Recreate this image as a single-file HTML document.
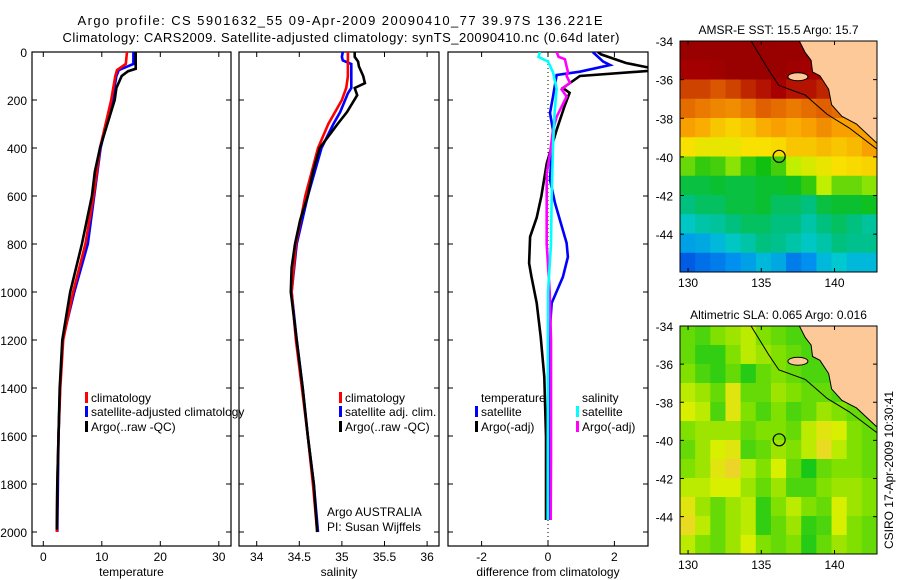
<!DOCTYPE html>
<html><head><meta charset="utf-8"><style>
body{margin:0;background:#fff;width:900px;height:580px;overflow:hidden}
svg{display:block;font-family:"Liberation Sans",sans-serif;font-size:12px}
</style></head><body>
<svg id="fig" width="900" height="580">
<text x="340" y="25" text-anchor="middle" font-size="13" textLength="525">Argo profile: CS 5901632_55 09-Apr-2009 20090410_77 39.97S 136.221E</text>
<text x="341" y="42" text-anchor="middle" font-size="13" textLength="557">Climatology: CARS2009. Satellite-adjusted climatology: synTS_20090410.nc (0.64d later)</text>
<g id="g"></g>
</svg>
<script>
// ---- profile data ----
const tClimDepth=[0,50,75,100,200,400,600,800,1000,1200,1400,1600,1800,2000];
const tClim=[14.3,14.1,12.6,12.3,11.6,9.7,8.6,7.2,5.1,3.4,2.9,2.6,2.4,2.3];
const tSat=[15.4,15.4,12.9,12.5,11.8,9.8,8.7,7.6,5.3,3.3,2.85,2.6,2.5,2.4];
const tArgoDepth=[0,70,80,100,150,200,400,500,600,800,1000,1200,1400,1600,1800,1990];
const tArgo=[15.8,15.8,14.5,13.4,12.5,12.2,9.7,8.8,8.3,6.6,4.6,3.25,2.8,2.6,2.4,2.3];
const sArgoDepth=[0,20,40,60,100,130,150,180,250,300,400,500,600,700,800,900,1000,1200,1400,1600,1800,2000];
const sArgo=[35.15,35.15,35.19,35.2,35.25,35.27,35.15,35.18,35.06,34.95,34.74,34.66,34.6,34.51,34.45,34.41,34.4,34.47,34.54,34.6,34.67,34.71];
const sClimDepth=[0,100,150,200,300,400,600,800,1000,1200,1400,1600,1800,2000];
const sClim=[35.07,35.07,35.05,35.0,34.84,34.72,34.57,34.46,34.41,34.46,34.53,34.6,34.66,34.71];
const sSatDepth=[0,20,35,50,150,172,250,300,400,600,800,1000,1200,1400,1600,1800,2000];
const sSat=[35.01,35.0,35.01,35.11,35.11,35.07,34.98,34.9,34.76,34.6,34.47,34.41,34.47,34.54,34.6,34.67,34.72];
const dTArgoDepth=[0,10,46,75,100,150,170,225,325,465,600,690,770,880,935,1046,1187,1354,1604,1950];
const dTArgo=[1.5,1.6,2.35,3.4,0.96,0.45,0.65,0.5,0.26,-0.04,-0.2,-0.34,-0.54,-0.57,-0.5,-0.34,-0.22,-0.11,-0.06,-0.06];
const dTSatDepth=[0,40,54,82,96,186,254,325,533,629,796,854,937,1046,1187,1950];
const dTSat=[1.35,1.66,1.87,0.96,0.26,0.15,0.06,0.15,0.06,0.21,0.56,0.6,0.45,0.11,0.04,0.05];
const dSSatDepth=[0,20,40,84,153,254,393,600,800,1000,1950];
const dSSat=[-0.24,-0.29,0,0.15,0.26,0.2,0.15,0.11,0.09,0,-0.01];
const dSArgoDepth=[0,20,30,60,82,100,128,156,186,270,325,424,507,800,1000,1200,1700,1950];
const dSArgo=[0.26,0.32,0.51,0.56,0.6,0.56,0.66,0.41,0.56,0.26,0.15,0.06,-0.04,-0.04,0.05,0.09,0.09,0.08];
const depthTicks=[0,200,400,600,800,1000,1200,1400,1600,1800,2000];
const tTicks=[0,10,20,30];
const sTicks=[34,34.5,35,35.5,36];
const dTicks=[-2,0,2];
// ---- map data (rows: lat -34.5 .. -45.5, cols: lon 130 .. 142) ----
const sstGrid=[
[0.97,0.97,0.97,0.97,0.97,0.97,0.97,0.97,0.97,0.95,0.95,0.95,0.95],
[0.93,0.93,0.95,0.97,0.97,0.97,0.97,0.95,0.93,0.92,0.92,0.92,0.92],
[0.85,0.85,0.83,0.85,0.88,0.9,0.92,0.9,0.9,0.88,0.86,0.85,0.85],
[0.8,0.78,0.76,0.75,0.78,0.82,0.8,0.78,0.8,0.82,0.8,0.78,0.75],
[0.72,0.7,0.66,0.64,0.66,0.7,0.72,0.7,0.72,0.75,0.72,0.72,0.72],
[0.62,0.6,0.6,0.6,0.62,0.62,0.63,0.66,0.66,0.68,0.66,0.68,0.72],
[0.5,0.47,0.48,0.52,0.47,0.45,0.48,0.55,0.58,0.6,0.62,0.63,0.64],
[0.42,0.42,0.43,0.42,0.42,0.43,0.43,0.44,0.47,0.55,0.5,0.5,0.52],
[0.38,0.4,0.4,0.42,0.42,0.43,0.4,0.4,0.38,0.42,0.43,0.43,0.44],
[0.33,0.35,0.36,0.38,0.4,0.4,0.38,0.38,0.35,0.38,0.4,0.38,0.36],
[0.27,0.28,0.3,0.33,0.35,0.38,0.37,0.35,0.33,0.35,0.38,0.37,0.37],
[0.17,0.2,0.22,0.25,0.27,0.3,0.28,0.22,0.25,0.3,0.32,0.3,0.3]];
const slaGrid=[
[0.3,0.2,0.4,0.5,0.6,0.4,0.3,0.2,0.2,0.2,0.2,0.2,0.2],
[0.3,0.1,0.1,0.4,0.6,0.5,0.4,0.3,0.2,0.2,0.2,0.2,0.2],
[0.4,0.2,0.1,0.3,0.05,0.3,0.4,0.3,0.2,0.2,0.2,0.2,0.2],
[0.6,0.5,0.3,0.8,0.3,0.3,0.5,0.4,0.3,0.3,0.2,0.2,0.2],
[0.7,0.6,0.2,0.8,0.4,0.2,0.4,0.2,0.3,0.5,0.4,0.3,0.3],
[0.4,0.5,0.5,0.5,0.3,0.4,0.4,0.3,0.6,0.8,0.7,0.4,0.3],
[0.3,0.5,0.7,0.8,0.2,0.3,0.5,0.4,0.6,0.9,0.6,0.4,0.3],
[0.4,0.5,0.8,0.95,0.6,0.4,0.7,0.3,0.0,0.3,0.4,0.4,0.3],
[0.6,0.6,0.7,0.7,0.5,0.3,0.5,0.2,0.2,0.4,0.5,0.5,0.4],
[0.8,0.5,0.3,0.5,0.6,0.1,0.4,0.6,0.4,0.3,0.7,0.5,0.4],
[0.9,0.6,0.3,0.5,0.6,0.1,0.3,0.5,0.1,0.2,0.7,0.4,0.3],
[0.6,0.4,0.3,0.5,0.7,0.4,0.3,0.4,0.05,0.3,0.5,0.4,0.3]];
const landLon=[137.6,142.9,142.9,141.5,140.5,139.8,139.6,139.0,138.5,138.4,138.0,137.6];
const landLat=[-34,-34,-39.3,-38.3,-37.9,-37.3,-36.5,-35.8,-35.6,-35.0,-34.6,-34];
const shelfLon=[134.3,135.5,136.2,138,139.5,141,142.9];
const shelfLat=[-34,-35.5,-36.3,-36.8,-37.8,-38.5,-39.6];
const lonTicks=[130,135,140];
const latTicks=[-34,-36,-38,-40,-42,-44];
const argoLon=136.221, argoLat=-39.97;

const NS='http://www.w3.org/2000/svg';
const G=document.getElementById('g');
function el(t,a,p){const e=document.createElementNS(NS,t);for(const k in a)e.setAttribute(k,a[k]);(p||G).appendChild(e);return e;}
const yD=d=>52+d*0.24;
const panels=[
 {x0:32,x1:231,sx:v=>43.3+v*5.85,ticks:tTicks,label:'temperature',name:'temperature'},
 {x0:239,x1:439,sx:v=>256.7+(v-34)*85.2,ticks:sTicks,label:'salinity',name:'salinity'},
 {x0:448,x1:648,sx:v=>548+v*33.2,ticks:dTicks,label:'difference from climatology',name:'difference'}];
const defs=el('defs',{});
panels.forEach((p,i)=>{
  const cp=el('clipPath',{id:'cp'+i},defs);el('rect',{x:p.x0,y:52,width:p.x1-p.x0,height:494},cp);
  const frame=el('rect',{x:p.x0,y:52,width:p.x1-p.x0,height:494,fill:'none',stroke:'#000','stroke-width':1.2});
  
  depthTicks.forEach(d=>{const y=yD(d);
    el('line',{x1:p.x0,x2:p.x0+5,y1:y,y2:y,stroke:'#000'});el('line',{x1:p.x1-5,x2:p.x1,y1:y,y2:y,stroke:'#000'});
    if(i==0){const t=el('text',{x:27,y:y+5,'text-anchor':'end'});t.textContent=d;
      }
  });
  p.ticks.forEach(v=>{const x=p.sx(v);
    el('line',{x1:x,x2:x,y1:52,y2:57,stroke:'#000'});el('line',{x1:x,x2:x,y1:541,y2:546,stroke:'#000'});
    const t=el('text',{x:x,y:561,'text-anchor':'middle'});t.textContent=v;
    });
  const xl=el('text',{x:(p.x0+p.x1)/2,y:576,'text-anchor':'middle'});xl.textContent=p.label;
  
});
el('line',{x1:548,x2:548,y1:52,y2:546,stroke:'#000','stroke-dasharray':'1,3'});
function series(pi,depths,vals,color,name){
  const p=panels[pi];
  const pts=vals.map((v,k)=>p.sx(v).toFixed(1)+','+yD(depths[k]).toFixed(1)).join(' ');
  const l=el('polyline',{points:pts,fill:'none',stroke:color,'stroke-width':2.6,'clip-path':'url(#cp'+pi+')'});
  
  
}
series(0,tClimDepth,tSat,'#0000ff','temp-satellite-line');
series(0,tClimDepth,tClim,'#ff0000','temp-climatology-line');
series(0,tArgoDepth,tArgo,'#000','temp-argo-line');
series(1,sSatDepth,sSat,'#0000ff','sal-satellite-line');
series(1,sClimDepth,sClim,'#ff0000','sal-climatology-line');
series(1,sArgoDepth,sArgo,'#000','sal-argo-line');
series(2,dTArgoDepth,dTArgo,'#000','diff-temp-argo-line');
series(2,dTSatDepth,dTSat,'#0000ff','diff-temp-satellite-line');
series(2,dSArgoDepth,dSArgo,'#ff00ff','diff-sal-argo-line');
series(2,dSSatDepth,dSSat,'#00ffff','diff-sal-satellite-line');
function legend(x,y,color,label,name){
  if(color){const b=el('rect',{x:x-6,y:y-10,width:3,height:11,fill:color});
    }
  const t=el('text',{x:x,y:y});t.textContent=label;
  
}
legend(91,402,'#ff0000','climatology','legend-climatology');
legend(91,416,'#0000ff','satellite-adjusted climatology','legend-satellite-adjusted');
legend(91,431,'#000','Argo(..raw -QC)','legend-argo');
legend(345,402,'#ff0000','climatology','legend-sal-climatology');
legend(345,416,'#0000ff','satellite adj. clim.','legend-sal-satellite');
legend(345,431,'#000','Argo(..raw -QC)','legend-sal-argo');
legend(481,402,null,'temperature','legend-temperature-heading');
legend(481,416,'#0000ff','satellite','legend-diff-temp-satellite');
legend(481,431,'#000','Argo(-adj)','legend-diff-temp-argo');
legend(582,402,null,'salinity','legend-salinity-heading');
legend(582,416,'#00ffff','satellite','legend-diff-sal-satellite');
legend(582,431,'#ff00ff','Argo(-adj)','legend-diff-sal-argo');
const a1=el('text',{x:327,y:516});a1.textContent='Argo AUSTRALIA';

const a2=el('text',{x:327,y:531});a2.textContent='PI: Susan Wijffels';


// ---- maps ----
function lerpStops(stops,v){v=Math.max(0,Math.min(1,v));
  for(let i=1;i<stops.length;i++){if(v<=stops[i][0]){const a=stops[i-1],b=stops[i],t=(v-a[0])/(b[0]-a[0]||1);
    const c=[0,1,2].map(k=>Math.round(a[1][k]+(b[1][k]-a[1][k])*t));return 'rgb('+c.join(',')+')';}}
  const c=stops[stops.length-1][1];return 'rgb('+c.join(',')+')';}
const sstStops=[[0,[0,32,160]],[0.15,[0,80,224]],[0.25,[0,144,240]],[0.32,[0,200,208]],[0.38,[0,192,128]],[0.45,[16,192,16]],[0.55,[192,240,0]],[0.62,[248,224,0]],[0.72,[248,160,0]],[0.82,[224,96,0]],[0.92,[168,0,0]],[1,[144,0,0]]];
const slaStops=[[0,[24,200,24]],[0.4,[128,224,0]],[0.7,[216,240,0]],[1,[240,208,48]]];
function drawMap(top,bottom,grid,stops,title,name,idx){
  const x0=680,x1=877,lonMin=129.45,lonMax=142.9,latTop=-34,latBot=-45.96;
  const sx=l=>x0+(l-lonMin)/(lonMax-lonMin)*(x1-x0);
  const sy=l=>top+(latTop-l)/(latTop-latBot)*(bottom-top);
  const cp=el('clipPath',{id:'mc'+idx},defs);el('rect',{x:x0,y:top,width:x1-x0,height:bottom-top},cp);
  const g=el('g',{'clip-path':'url(#mc'+idx+')'});
  
  const nR=grid.length,nC=grid[0].length,dLon=(lonMax-lonMin)/nC,dLat=(latTop-latBot)/nR;
  grid.forEach((row,r)=>row.forEach((v,c)=>{
    const xa=sx(lonMin+c*dLon),xb=sx(lonMin+(c+1)*dLon),ya=sy(latTop-r*dLat),yb=sy(latTop-(r+1)*dLat);
    const cell=el('rect',{x:xa,y:ya,width:xb-xa+0.6,height:yb-ya+0.6,fill:lerpStops(stops,v)},g);
    
    
  }));
  const land=el('polygon',{points:landLon.map((l,k)=>sx(l)+','+sy(landLat[k])).join(' '),fill:'#fdc998',stroke:'#000','stroke-width':1},g);
  
  const isl=el('ellipse',{cx:sx(137.5),cy:sy(-35.85),rx:10,ry:4,fill:'#fdc998',stroke:'#000'},g);
  
  el('polyline',{points:shelfLon.map((l,k)=>sx(l)+','+sy(shelfLat[k])).join(' '),fill:'none',stroke:'#000','stroke-width':1},g);
  const fr=el('rect',{x:x0,y:top,width:x1-x0,height:bottom-top,fill:'none',stroke:'#000'});
  
  const m=el('circle',{cx:sx(argoLon),cy:sy(argoLat),r:6,fill:'none',stroke:'#000','stroke-width':1.2});
  
  latTicks.forEach(l=>{const y=sy(l);el('line',{x1:x0,x2:x0+4,y1:y,y2:y,stroke:'#000'});el('line',{x1:x1-4,x2:x1,y1:y,y2:y,stroke:'#000'});
    const t=el('text',{x:673,y:y+5,'text-anchor':'end'});t.textContent=l;
    });
  lonTicks.forEach(l=>{const x=sx(l);el('line',{x1:x,x2:x,y1:top,y2:top+4,stroke:'#000'});el('line',{x1:x,x2:x,y1:bottom-4,y2:bottom,stroke:'#000'});
    const t=el('text',{x:x,y:bottom+15,'text-anchor':'middle'});t.textContent=l;
    });
  const tt=el('text',{x:(x0+x1)/2,y:top-7,'text-anchor':'middle'});tt.textContent=title;
  
}
drawMap(41,272,sstGrid,sstStops,'AMSR-E SST: 15.5 Argo: 15.7','sst-map',0);
drawMap(326,554,slaGrid,slaStops,'Altimetric SLA: 0.065 Argo: 0.016','sla-map',1);
const cs=el('text',{x:0,y:0,'text-anchor':'middle',transform:'translate(893,470) rotate(-90)'});
cs.textContent='CSIRO 17-Apr-2009 10:30:41';

</script>
</body></html>
